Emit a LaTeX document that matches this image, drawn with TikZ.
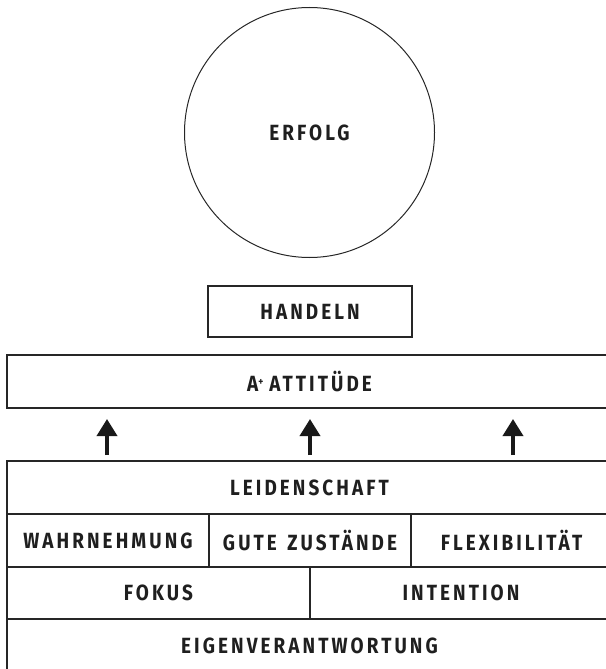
\documentclass[tikz,border=0pt]{standalone}
\usepackage{fontspec}
\setmainfont{Fira Sans}[BoldFont={Fira Sans Bold}]
\newfontfamily\labelfont{Fira Sans}[BoldFont={Fira Sans Bold},FakeStretch=0.86,LetterSpace=14]
\usetikzlibrary{arrows.meta}
\begin{document}
\begin{tikzpicture}[x=1pt,y=-1pt,
  lbl/.style={font=\labelfont\bfseries\fontsize{22}{24}\selectfont, text=black!88},
  cell/.style={lbl, draw=black!85, line width=1.3pt, inner sep=0pt, rectangle, anchor=center},
  uparrow/.style={line width=3.6pt, black!90, -{Triangle[width=20pt,length=17pt]}}
]
\useasboundingbox (0,0) rectangle (605,669);
% circle
\node[lbl, draw=black!85, line width=1pt, circle, minimum size=250pt, inner sep=0pt] (erfolg) at (309.5,132.5) {ERFOLG};
% Handeln
\node[cell, minimum width=204pt, minimum height=51pt] (handeln) at (310,311.5) {HANDELN};
% A+ Attitude
\node[cell, minimum width=605pt, minimum height=53pt] (attitude) at (309.5,381.5) {A\raisebox{0.5ex}{\fontsize{11}{11}\selectfont +}\hspace{6pt}ATTITÜDE};
% bottom block
\node[cell, minimum width=605pt, minimum height=53pt] (leid) at (309.5,487.5) {LEIDENSCHAFT};
\node[cell, minimum width=202pt, minimum height=53pt] (wahr) at (108,540.5) {WAHRNEHMUNG};
\node[cell, minimum width=202pt, minimum height=53pt] (gute) at (310,540.5) {GUTE\hspace{3pt} ZUSTÄNDE};
\node[cell, minimum width=201pt, minimum height=53pt] (flex) at (511.5,540.5) {FLEXIBILITÄT};
\node[cell, minimum width=303pt, minimum height=52pt] (fokus) at (158.5,593) {FOKUS};
\node[cell, minimum width=302pt, minimum height=52pt] (intention) at (461,593) {INTENTION};
\node[cell, minimum width=605pt, minimum height=53pt] (eigen) at (309.5,645.5) {EIGENVERANTWORTUNG};
% arrows
\coordinate (a1b) at (107,455); \coordinate (a1t) at (107,419);
\coordinate (a2b) at (310,455); \coordinate (a2t) at (310,419);
\coordinate (a3b) at (513,455); \coordinate (a3t) at (513,419);
\draw[uparrow] (a1b) -- (a1t);
\draw[uparrow] (a2b) -- (a2t);
\draw[uparrow] (a3b) -- (a3t);
\end{tikzpicture}
\end{document}
